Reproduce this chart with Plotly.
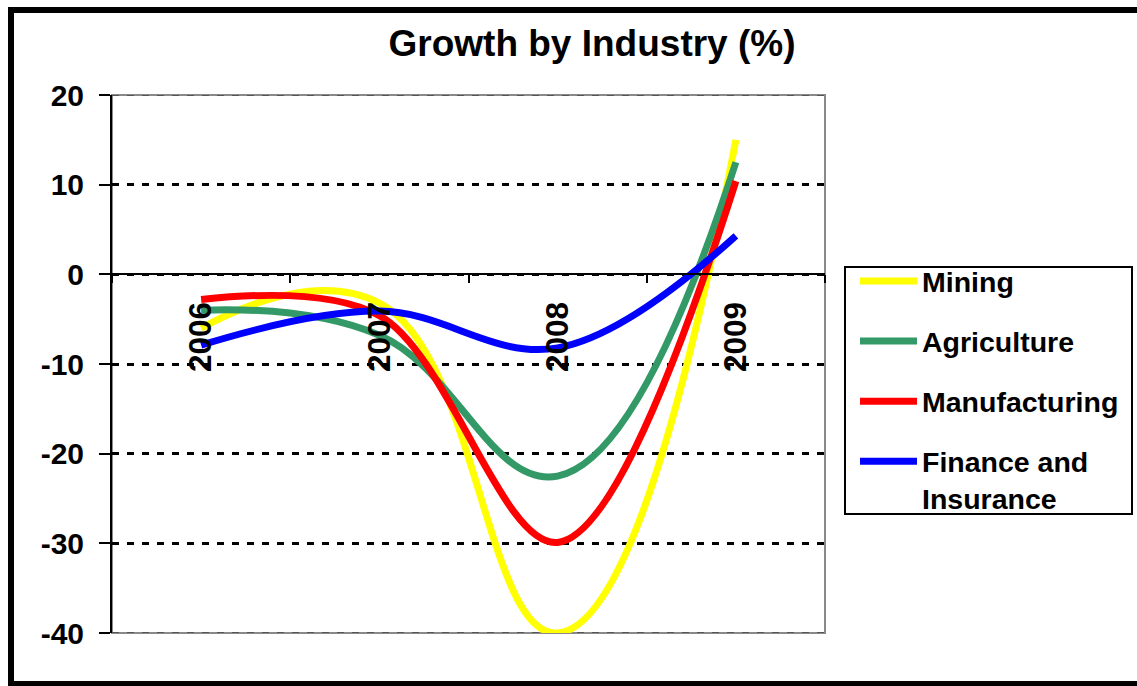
import plotly.graph_objects as go

# ---- data ----
years = ["2006", "2007", "2008", "2009"]
mining = [-6.0, -3.2, -40.0, 15.0]
agriculture = [-4.0, -6.8, -22.5, 12.5]
manufacturing = [-2.8, -4.6, -29.9, 10.4]
finance = [-7.9, -4.1, -8.2, 4.3]

series_names = ["Mining", "Agriculture", "Manufacturing", "Finance and<br>Insurance"]
series_values = [mining, agriculture, manufacturing, finance]
series_colors = ["#FFFF00", "#339966", "#FF0000", "#0000FF"]
series_smoothing = [1.3, 1.2, 1.0, 1.1]

y_tick_vals = [20, 10, 0, -10, -20, -30, -40]
y_tick_text = ["20", "10", "0", "-10", "-20", "-30", "-40"]
y_min, y_max = -40, 20

W, H = 1137, 686
ML, MR, MT, MB = 112, 312, 95, 53
PW, PH = W - ML - MR, H - MT - MB

FONT = "Liberation Sans, Arial, sans-serif"

fig = go.Figure()
for i, (name, vals, col, sm) in enumerate(zip(series_names, series_values, series_colors, series_smoothing)):
    fig.add_trace(go.Scatter(
        x=years, y=vals, name=name, mode="lines",
        line=dict(color=col, width=7, shape="spline", smoothing=sm),
        legendgroup=f"g{i}",
    ))

def px_x(p):
    return (p - ML) / PW

def px_y(p):
    return (H - MB - p) / PH

shapes = [
    # plot area frame (grey)
    dict(type="rect", xref="paper", yref="paper", x0=0, x1=1, y0=0, y1=1,
         line=dict(color="#8a8a8a", width=2), layer="below"),
    # dashed overlay on top / bottom frame edges
    dict(type="line", xref="paper", yref="y", x0=0, x1=1, y0=y_max, y1=y_max,
         line=dict(color="#555555", width=2, dash="7px,8px"), layer="below"),
    dict(type="line", xref="paper", yref="y", x0=0, x1=1, y0=y_min, y1=y_min,
         line=dict(color="#555555", width=2, dash="7px,8px"), layer="below"),
    # legend box
    dict(type="rect", xref="paper", yref="paper",
         x0=px_x(845), x1=px_x(1132), y0=px_y(514), y1=px_y(267),
         line=dict(color="black", width=2), layer="above"),
    # outer chart border
    dict(type="rect", xref="paper", yref="paper",
         x0=px_x(11), x1=px_x(1142), y0=px_y(684), y1=px_y(10),
         line=dict(color="black", width=6), layer="above"),
]

zero_pos = (0 - y_min) / (y_max - y_min)

fig.update_layout(
    width=W, height=H,
    margin=dict(l=ML, r=MR, t=MT, b=MB, autoexpand=False),
    paper_bgcolor="white", plot_bgcolor="white",
    font=dict(family=FONT, color="black"),
    title=dict(text="Growth by Industry (%)", x=592 / W, xref="container", xanchor="center",
               y=1 - 43 / H, yref="container", yanchor="middle",
               font=dict(size=37, family=FONT, color="black", weight="bold")),
    xaxis=dict(type="category", range=[-0.5, 3.5], anchor="free", position=zero_pos,
               showline=True, linecolor="black", linewidth=2,
               ticks="outside", ticklen=8, tickwidth=2, tickcolor="black",
               tickson="boundaries", tickangle=-90, showgrid=False, zeroline=False,
               tickfont=dict(size=31.5, family=FONT, color="black", weight="bold"),
               ticklabelstandoff=14, automargin=False),
    yaxis=dict(range=[y_min, y_max], tickvals=y_tick_vals, ticktext=y_tick_text,
               showline=True, linecolor="black", linewidth=2,
               ticks="outside", ticklen=11, tickwidth=2, tickcolor="black",
               showgrid=True, gridcolor="black", gridwidth=3, griddash="7px,8px",
               zeroline=False, automargin=False, ticklabelstandoff=9,
               tickfont=dict(size=30, family=FONT, color="black", weight="bold")),
    legend=dict(x=px_x(855), y=px_y(256), xanchor="left", yanchor="top",
                borderwidth=0, bgcolor="rgba(0,0,0,0)",
                font=dict(size=28.5, family=FONT, color="black", weight="bold"),
                tracegroupgap=20, valign="top", itemwidth=57),
    shapes=shapes,
    showlegend=True,
)

fig.write_html("out.html")
